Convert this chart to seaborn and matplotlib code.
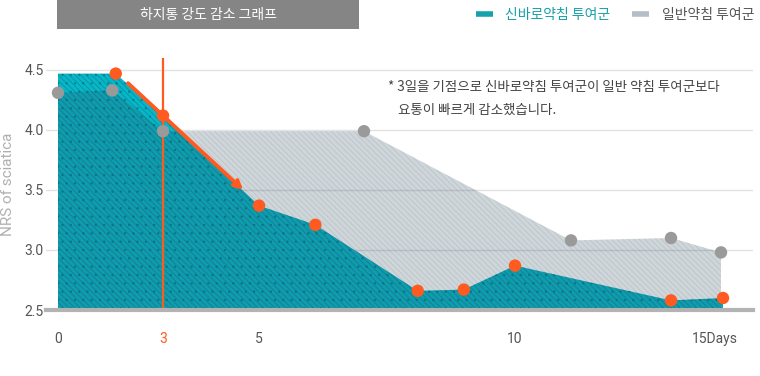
"""
Sciatica pain (NRS) reduction chart: Shinbaro pharmacopuncture vs general pharmacopuncture.
"""
import numpy as np
import matplotlib
matplotlib.use("Agg")
import matplotlib.pyplot as plt
import seaborn as sns
from matplotlib.patches import Rectangle
from matplotlib.lines import Line2D

# --- data (days, NRS) ---
shinbaro_days = [0, 1.65, 3.0, 5.0, 6.1, 8.1, 9.0, 10.0, 13.9, 15.2]
shinbaro_nrs = [4.47, 4.47, 4.12, 3.37, 3.21, 2.66, 2.67, 2.87, 2.58, 2.60]
general_days = [0, 1.55, 3.0, 7.05, 11.4, 13.9, 15.15]
general_nrs = [4.31, 4.33, 3.99, 3.99, 3.08, 3.10, 2.98]

x_ticks = [0, 3, 5, 10, 15]
x_tick_labels = ["0", "3", "5", "10", "15Days"]
y_ticks = [2.5, 3.0, 3.5, 4.0, 4.5]

# the original axis is not to scale: piecewise day -> position knots
day_knots = [-1, 0, 3, 5, 10, 15, 17]
pos_knots = [-35, 0, 105, 201, 457, 657, 737]

arrow_start = (2.0, 4.39)
arrow_end = (4.67, 3.5)

title = "하지통 강도 감소 그래프"
legend_labels = ["신바로약침 투여군", "일반약침 투여군"]
note_lines = ["* 3일을 기점으로 신바로약침 투여군이 일반 약침 투여군보다",
              "요통이 빠르게 감소했습니다."]

# --- colours ---
CYAN = "#08b6c7"
ORANGE = "#ff5a1f"
GRAY_DOT = "#9a9a9a"
LEGEND_GRAY = "#b5bec6"
TEXT = "#555555"

sns.set_theme(style="white")
plt.rcParams["font.family"] = ["Noto Sans CJK KR", "DejaVu Sans"]
plt.rcParams["hatch.linewidth"] = 0.5

fig = plt.figure(figsize=(7.6, 3.76), dpi=100)
ax = fig.add_axes([46 / 760, 1 - 310 / 376, 707 / 760, 252 / 376])


def fwd(x):
    return np.interp(x, day_knots, pos_knots)


def inv(p):
    return np.interp(p, pos_knots, day_knots)


ax.set_xscale("function", functions=(fwd, inv))

# grid under everything
for yv in y_ticks[1:]:
    ax.axhline(yv, color="#e2e2e2", lw=1.0, zorder=0)

# Shinbaro area
ax.fill_between(shinbaro_days, shinbaro_nrs, 2.5, facecolor=CYAN,
                edgecolor=(0.0, 0.35, 0.42, 0.45), hatch="\\\\\\\\\\\\..", linewidth=0, zorder=1)
# general area, translucent overlay
ax.fill_between(general_days, general_nrs, 2.5, facecolor=(0.12, 0.25, 0.33, 0.21),
                edgecolor=(0.40, 0.46, 0.52, 0.22), hatch="\\\\\\\\\\\\", linewidth=0, zorder=2)

ax.axvline(3, color=ORANGE, lw=1.6, zorder=3)
ax.annotate("", xy=arrow_end, xytext=arrow_start,
            arrowprops=dict(arrowstyle="->", color=ORANGE, lw=2.8,
                            mutation_scale=12, shrinkA=0, shrinkB=0), zorder=4)

sns.scatterplot(x=general_days, y=general_nrs, color=GRAY_DOT, s=80,
                edgecolor="none", ax=ax, zorder=5)
sns.scatterplot(x=shinbaro_days[1:], y=shinbaro_nrs[1:], color=ORANGE, s=80,
                edgecolor="none", ax=ax, zorder=6)

ax.set_xlim(-0.343, 15.95)
ax.set_ylim(2.5, 4.6)
ax.set_xticks(x_ticks)
ax.set_xticklabels(x_tick_labels)
ax.set_yticks(y_ticks)
ax.set_yticklabels([f"{v:.1f}" for v in y_ticks])
ax.tick_params(axis="x", length=0, pad=16, labelsize=10, labelcolor=TEXT)
ax.tick_params(axis="y", length=0, pad=1.5, labelsize=10, labelcolor=TEXT)
for lab in ax.get_xticklabels() + ax.get_yticklabels():
    lab.set_family(["Roboto", "DejaVu Sans"])
ax.get_xticklabels()[1].set_color(ORANGE)
ax.set_xlabel("")
ax.set_ylabel("")

for side in ["top", "right", "left"]:
    ax.spines[side].set_visible(False)
ax.spines["bottom"].set_color("#b3b3b3")
ax.spines["bottom"].set_linewidth(3)
ax.spines["bottom"].set_zorder(7)
ax.set_facecolor("white")

fig.text(8 / 760, 1 - 184 / 376, "NRS of sciatica", rotation=90, ha="center", va="center",
         fontsize=11, color="#b0b0b0", family=["Roboto", "DejaVu Sans"])

# title box
fig.patches.append(Rectangle((57 / 760, 1 - 29 / 376), 302 / 760, 29 / 376,
                             transform=fig.transFigure, facecolor="#858585", edgecolor="none"))
fig.text(208 / 760, 1 - 15 / 376, title, ha="center", va="center", fontsize=10, color="white")

# legend
handles = [Line2D([0], [0], color="#14a3ab", lw=4, solid_capstyle="butt"),
           Line2D([0], [0], color=LEGEND_GRAY, lw=4, solid_capstyle="butt")]
leg = fig.legend(handles, legend_labels, loc="center right", bbox_to_anchor=(754 / 760, 1 - 15 / 376),
                 ncol=2, frameon=False, fontsize=10, handlelength=1.2, handletextpad=0.9,
                 columnspacing=1.6, borderpad=0, borderaxespad=0)
leg.get_texts()[0].set_color("#14a0a8")
leg.get_texts()[1].set_color("#555555")

# note
fig.text(388 / 760, 1 - 87 / 376, note_lines[0], ha="left", va="center", fontsize=9.7, color="#444444")
fig.text(398 / 760, 1 - 110 / 376, note_lines[1], ha="left", va="center", fontsize=9.7, color="#444444")

fig.savefig("out.png", dpi=100)
